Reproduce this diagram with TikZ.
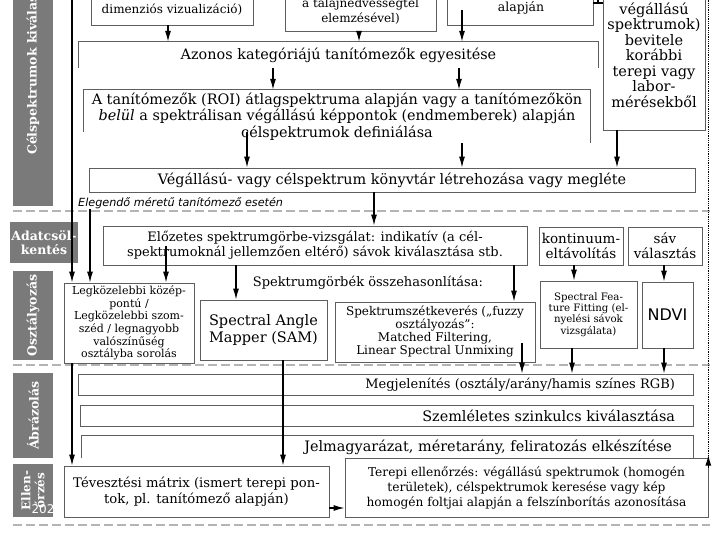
\documentclass[tikz,border=0pt]{standalone}
\usepackage{fontspec}
\setmainfont{DejaVu Serif}
\setsansfont{DejaVu Sans}
\usepackage{xcolor}
\usetikzlibrary{arrows.meta,positioning}
\definecolor{sidegray}{HTML}{7A7A7A}
\definecolor{sepgray}{HTML}{B4B4B4}
\definecolor{boxline}{HTML}{5E5E5E}
\newcommand{\fsz}[2]{\fontsize{#1}{#2}\selectfont}
\tikzset{
  box/.style={rectangle,draw=boxline,line width=0.7pt,fill=white,align=center,inner sep=1pt},
  openbox/.style={rectangle,align=center,inner sep=1pt},
  rbox/.style={box,align=right,inner xsep=18pt,inner ysep=0pt},
  frame/.style={draw=boxline,line width=0.7pt},
  side/.style={rectangle,fill=sidegray,text=white,font=\bfseries\fsz{12.5}{14},inner sep=1pt,align=center},
  arrow/.style={-{Latex[length=11pt,width=6pt]},line width=1.3pt,draw=black},
  sep/.style={draw=sepgray,line width=2.6pt,dash pattern=on 9pt off 4pt},
  fbig/.style={font=\fsz{14.4}{16.5}},
  fmed/.style={font=\fsz{13}{15}},
  fsmall/.style={font=\fsz{12}{15.5}},
  fless/.style={font=\fsz{11}{12.6}},
  ftiny/.style={font=\fsz{10.2}{11.4}}
}

\begin{document}
\begin{tikzpicture}[x=1pt,y=-1pt]
\useasboundingbox (0,0) rectangle (720,540);
% separators
\draw[sep] (13,211) -- (710,211);
\draw[sep] (13,365) -- (710,365);
\draw[sep] (13,525) -- (710,525);
% side labels
\node[side,rotate=90,minimum width=298,minimum height=40] (s1) at (33,57) {Célspektrumok kiválasztása};
\node[side,minimum width=62,minimum height=41] (s2) at (44,242.5) {Adatcsöl-\\kentés};
\node[side,rotate=90,minimum width=89,minimum height=40] (s3) at (33,315.5) {Osztályozás};
\node[side,rotate=90,minimum width=85,minimum height=40] (s4) at (33,415.5) {Ábrázolás};
\node[side,rotate=90,minimum width=53,minimum height=40,font=\bfseries\fsz{12}{14}] (s5) at (33,490.5) {Ellen-\\őrzés};
\node[text=white,font=\sffamily\fsz{12}{14},inner sep=0pt] (pg) at (43,509) {202};
% top row (cut off)
\node[box,minimum width=162,minimum height=90] (viz) at (172,-20) {};
\node[fsmall,inner sep=0pt] (viz-t) at (172,10) {dimenziós vizualizáció)};
\node[box,minimum width=151,minimum height=102] (talaj) at (360.5,-20) {};
\node[fsmall,align=center,inner sep=0pt] (talaj-t) at (360.5,11) {a talajnedvességtel\\elemzésével)};
\node[box,minimum width=146,minimum height=90] (alap) at (520,-20) {};
\node[font=\fsz{12.5}{15},inner sep=0pt] (alap-t) at (521,8) {alapján};
\node[box,font=\fsz{14.5}{15.5},minimum width=102,minimum height=150] (labor) at (654,55) {végállású\\spektrumok)\\bevitele\\korábbi\\terepi vagy\\labor-\\mérésekből};
% library block
\node[openbox,fbig,minimum width=519,minimum height=26] (azon) at (338.5,55) {Azonos kategóriájú tanítómezők egyesitése};
\draw[frame] (azon.south west) |- (azon.north east) -- (azon.south east);
\node[openbox,fbig,minimum width=506,minimum height=53] (roi) at (337,116.5) {A tanítómezők (ROI) átlagspektruma alapján vagy a tanítómezőkön\\\textit{belül} a spektrálisan végállású képpontok (endmemberek) alapján\\célspektrumok definiálása};
\coordinate (roiL) at ([yshift=11pt]roi.south west);
\draw[frame] (roiL) |- (roi.north east) -- (roi.south east);
\node[box,fbig,minimum width=606,minimum height=24] (lib) at (392,180) {Végállású- vagy célspektrum könyvtár létrehozása vagy megléte};
\node[anchor=west,font=\sffamily\itshape\fsz{11.2}{13},inner sep=0pt] (eleg) at (78,203) {Elegendő méretű tanítómező esetén};
% preprocessing and classification
\node[box,fmed,minimum width=424,minimum height=39] (elo) at (315,245.5) {Előzetes spektrumgörbe-vizsgálat: indikatív (a cél-\\spektrumoknál jellemzően eltérő) sávok kiválasztása stb.};
\node[box,font=\fsz{13.5}{15},minimum width=84,minimum height=38] (kont) at (581,246) {kontinuum-\\eltávolítás};
\node[box,font=\fsz{13.5}{15},minimum width=74,minimum height=38] (sav) at (665,246) {sáv\\választás};
\node[box,fless,minimum width=130,minimum height=80] (legk) at (129,323) {Legközelebbi közép-\\pontú /\\Legközelebbi szom-\\széd / legnagyobb\\valószínűség\\osztályba sorolás};
\node[fmed,inner sep=0pt] (spg) at (368,283) {Spektrumgörbék összehasonlítása:};
\node[box,font=\fsz{14.5}{17},minimum width=127,minimum height=60] (sam) at (263.5,330) {Spectral Angle\\Mapper (SAM)};
\node[box,font=\fsz{12}{13},minimum width=200,minimum height=60] (szet) at (435,332) {Spektrumszétkeverés („fuzzy\\osztályozás":\\Matched Filtering,\\Linear Spectral Unmixing};
\node[box,ftiny,minimum width=97,minimum height=67] (sff) at (588.5,314.5) {Spectral Fea-\\ture Fitting (el-\\nyelési sávok\\vizsgálata)};
\node[box,font=\sffamily\fsz{16}{18},minimum width=51,minimum height=66] (ndvi) at (667.5,315) {NDVI};
% display
\node[rbox,fmed,text width=579,minimum height=21] (megj) at (385.5,384.5) {Megjelenítés (osztály/arány/hamis színes RGB)};
\node[rbox,fbig,text width=577,minimum height=21] (szin) at (386.5,415.5) {Szemléletes szinkulcs kiválasztása};
\node[rbox,draw=none,fbig,inner xsep=21pt,text width=569,minimum height=22] (jel) at (387.5,447) {Jelmagyarázat, méretarány, feliratozás elkészítése};
\draw[frame] (jel.south west) |- (jel.north east) -- (jel.south east);
% validation
\node[box,font=\fsz{13.2}{16},minimum width=265,minimum height=51] (teve) at (196.5,491.5) {Tévesztési mátrix (ismert terepi pon-\\tok, pl. tanítómező alapján)};
\node[box,font=\fsz{12.2}{15},minimum width=363,minimum height=59] (terep) at (526.5,487.5) {Terepi ellenőrzés: végállású spektrumok (homogén\\területek), célspektrumok keresése vagy kép\\homogén foltjai alapján a felszínborítás azonosítása};
% arrow columns
\coordinate (x72) at (72,0);
\coordinate (x90) at (90,0);
\coordinate (x166) at (166,0);
\coordinate (x168) at (168,0);
\coordinate (x236) at (236,0);
\coordinate (x247) at (247,0);
\coordinate (x273) at (273,0);
\coordinate (x283) at (283,0);
\coordinate (x359) at (359,0);
\coordinate (x374) at (374,0);
\coordinate (x459) at (459,0);
\coordinate (x462) at (462,0);
\coordinate (x514) at (514,0);
\coordinate (x522) at (522,0);
\coordinate (x572) at (572,0);
\coordinate (x574) at (574,0);
\coordinate (x617) at (617,0);
\coordinate (x664) at (664,0);
\coordinate (alapIn) at (462,10);
\coordinate (szetIn) at (522,343);
\coordinate (tick) at (598,3);
\coordinate (teveOut) at ([yshift=-16.5pt]teve.east);
% arrows
\draw[arrow] (viz.south -| x168) -- (azon.north -| x168);
\draw[arrow] (talaj.south -| x359) -- (azon.north -| x359);
\draw[arrow] (alapIn) -- (azon.north -| x462);
\draw[line width=1.3pt] (alap.east |- tick) -- (labor.west |- tick);
\draw[line width=1.3pt] (tick) -- (tick |- x72);
\draw[arrow] (azon.south -| x273) -- (roi.north -| x273);
\draw[arrow] (azon.south -| x459) -- (roi.north -| x459);
\draw[arrow] (roiL -| x247) -- (lib.north -| x247);
\draw[arrow] (roi.south -| x462) -- (lib.north -| x462);
\draw[arrow] (labor.south -| x617) -- (lib.north -| x617);
\draw[arrow] (lib.south -| x374) -- (elo.north -| x374);
\draw[arrow] (x72) -- (legk.north -| x72);
\draw[arrow] (eleg.south -| x90) -- (legk.north -| x90);
\draw[arrow] (elo.center -| x166) -- (legk.north -| x166);
\draw[arrow] (elo.south -| x236) -- (sam.north -| x236);
\draw[arrow] (elo.south -| x514) -- (szet.north -| x514);
\draw[arrow] (kont.south -| x574) -- (sff.north -| x574);
\draw[arrow] (sav.south -| x664) -- (ndvi.north -| x664);
\draw[arrow] (szetIn) -- (megj.north -| x522);
\draw[arrow] (sff.south -| x572) -- (megj.north -| x572);
\draw[arrow] (ndvi.south -| x664) -- (megj.north -| x664);
\draw[arrow] (legk.south -| x72) -- (teve.north -| x72);
\draw[arrow] (sam.south -| x283) -- (teve.north -| x283);
\draw[arrow] (teveOut) -- (teveOut -| terep.west);
\draw[densely dotted,line width=0.8pt] (terep.north east) -- (terep.north east |- x72);
\draw[arrow] ([yshift=-10pt]terep.north east) -- ([yshift=3pt]terep.north east);
\end{tikzpicture}
\end{document}
